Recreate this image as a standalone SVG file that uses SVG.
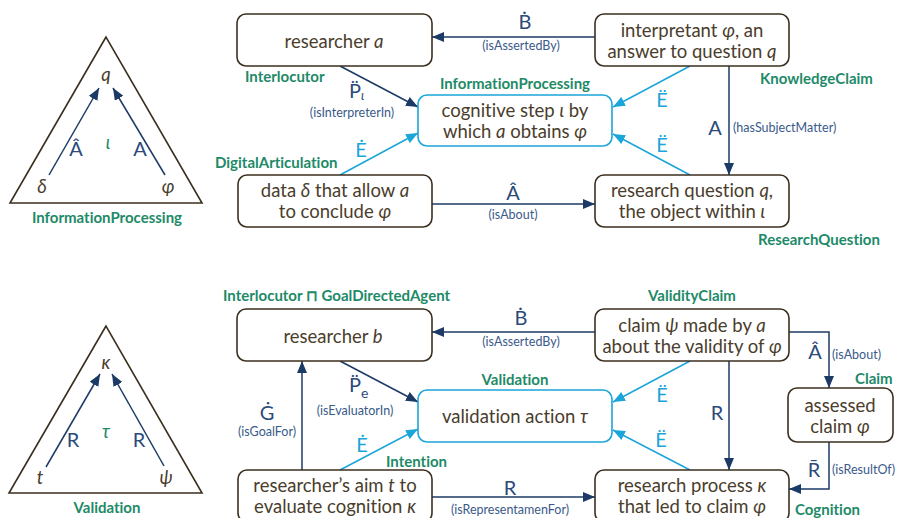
<svg xmlns="http://www.w3.org/2000/svg" width="900" height="518" viewBox="0 0 900 518">
<defs>
<marker id="an" viewBox="0 0 12 10" refX="12" refY="5" markerWidth="12" markerHeight="10" markerUnits="userSpaceOnUse" orient="auto"><path d="M0,0 L12,5 L0,10 Z" fill="#1c3a66"/></marker>
<marker id="ac" viewBox="0 0 12 10" refX="12" refY="5" markerWidth="12" markerHeight="10" markerUnits="userSpaceOnUse" orient="auto"><path d="M0,0 L12,5 L0,10 Z" fill="#1ba5d8"/></marker>
</defs>
<style>
text{font-family:Lato,"Liberation Sans",sans-serif;font-variant-ligatures:none;font-feature-settings:"liga" 0,"dlig" 0}
.box{fill:#fff;stroke:#3b2f1e;stroke-width:1.6}
.bbox{fill:#fff;stroke:#1ba5d8;stroke-width:1.6}
.nt{font-size:18.5px;fill:#4a3d2c;text-anchor:middle}
.i{font-style:italic}
.cls{font-size:15px;font-weight:bold;fill:#1e8a68}
.mid{text-anchor:middle}
.el{font-size:20px;fill:#2b4a7a;text-anchor:middle}
.ec{font-size:20px;fill:#1ba5d8;text-anchor:middle}
.pl{font-size:12.5px;fill:#3a5a8a;text-anchor:middle}
.pls{font-size:12.5px;fill:#3a5a8a;text-anchor:start}
.sub{fill:#2b4a7a;text-anchor:start}
.n{stroke:#1c3a66;stroke-width:1.5;fill:none}
.c{stroke:#1ba5d8;stroke-width:1.5;fill:none}
.tri{fill:none;stroke:#3b2f1e;stroke-width:1.6}
</style>

<g id="triangle-info">
<polygon class="tri" points="106,37 10,203 202,203"/>
<line class="n" x1="49" y1="175" x2="99" y2="88" marker-end="url(#an)"/>
<line class="n" x1="165" y1="175" x2="113" y2="88" marker-end="url(#an)"/>
<text class="nt i" x="106" y="81">q</text>
<text class="nt i" x="108" y="149" style="fill:#1e8a68">ι</text>
<text class="el" x="76" y="156">Â</text>
<text class="el" x="140" y="156">A</text>
<text class="nt i" x="42" y="193">δ</text>
<text class="nt i" x="168" y="193">φ</text>
<text class="cls mid" x="107" y="223">InformationProcessing</text>
</g>

<g id="triangle-val">
<polygon class="tri" points="106,326 9,493 202,493"/>
<line class="n" x1="46" y1="467" x2="100" y2="374" marker-end="url(#an)"/>
<line class="n" x1="164" y1="466" x2="112" y2="374" marker-end="url(#an)"/>
<text class="nt i" x="106" y="369">κ</text>
<text class="nt i" x="106" y="438" style="fill:#1e8a68">τ</text>
<text class="el" x="73" y="447">R</text>
<text class="el" x="139" y="447">R</text>
<text class="nt i" x="40" y="484">t</text>
<text class="nt i" x="166" y="484">ψ</text>
<text class="cls mid" x="107" y="513">Validation</text>
</g>

<g id="connectors">
<line class="n" x1="595" y1="37" x2="432" y2="37" marker-end="url(#an)"/>
<line class="n" x1="340" y1="66" x2="418" y2="107" marker-end="url(#an)"/>
<line class="c" x1="690" y1="66" x2="613" y2="107" marker-end="url(#ac)"/>
<line class="n" x1="729" y1="66" x2="729" y2="175" marker-end="url(#an)"/>
<line class="c" x1="690" y1="175" x2="613" y2="134" marker-end="url(#ac)"/>
<line class="c" x1="340" y1="175" x2="418" y2="133" marker-end="url(#ac)"/>
<line class="n" x1="432" y1="204" x2="595" y2="204" marker-end="url(#an)"/>

<line class="n" x1="595" y1="332" x2="432" y2="332" marker-end="url(#an)"/>
<line class="n" x1="340" y1="361" x2="418" y2="402" marker-end="url(#an)"/>
<line class="n" x1="302" y1="470" x2="302" y2="361" marker-end="url(#an)"/>
<line class="c" x1="340" y1="470" x2="418" y2="429" marker-end="url(#ac)"/>
<line class="n" x1="432" y1="497" x2="595" y2="497" marker-end="url(#an)"/>
<line class="c" x1="690" y1="361" x2="613" y2="402" marker-end="url(#ac)"/>
<line class="n" x1="729" y1="361" x2="729" y2="470" marker-end="url(#an)"/>
<line class="c" x1="690" y1="470" x2="613" y2="430" marker-end="url(#ac)"/>
<polyline class="n" points="789,332 829,332 829,388" marker-end="url(#an)"/>
<polyline class="n" points="829,442 829,489 789,489" marker-end="url(#an)"/>

<text class="el" x="525" y="29">Ḃ</text>
<text class="pl" x="521" y="50">(isAssertedBy)</text>
<text class="el" x="355" y="98">P̈</text>
<text class="sub i" x="361" y="100" style="font-size:13px">ι</text>
<text class="pl" x="352" y="117">(isInterpreterIn)</text>
<text class="ec" x="662" y="107">Ë</text>
<text class="el" x="715" y="135">A</text>
<text class="pls" x="733" y="132">(hasSubjectMatter)</text>
<text class="ec" x="662" y="152">Ë</text>
<text class="ec" x="361" y="157">Ė</text>
<text class="el" x="513" y="200">Â</text>
<text class="pl" x="513" y="219">(isAbout)</text>

<text class="el" x="521" y="325">Ḃ</text>
<text class="pl" x="521" y="346">(isAssertedBy)</text>
<text class="el" x="355" y="392">P̈</text>
<text class="sub" x="361" y="398" style="font-size:14px">e</text>
<text class="pl" x="355" y="415">(isEvaluatorIn)</text>
<text class="el" x="267" y="420">Ġ</text>
<text class="pl" x="267" y="436">(isGoalFor)</text>
<text class="ec" x="362" y="452">Ė</text>
<text class="el" x="510" y="495">R</text>
<text class="pl" x="510" y="514">(isRepresentamenFor)</text>
<text class="ec" x="662" y="402">Ë</text>
<text class="el" x="717" y="420">R</text>
<text class="ec" x="661" y="447">Ë</text>
<text class="el" x="815" y="359">Â</text>
<text class="pls" x="832" y="359">(isAbout)</text>
<text class="el" x="814" y="477">R̄</text>
<text class="pls" x="832" y="474">(isResultOf)</text>
</g>

<g id="researcher-a">
<rect class="box" x="237" y="14" width="195" height="52" rx="9"/>
<text class="nt" x="334" y="48">researcher <tspan class="i">a</tspan></text>
<text class="cls" x="245" y="82">Interlocutor</text>
</g>
<g id="interpretant">
<rect class="box" x="595" y="14" width="194" height="52" rx="9"/>
<text class="nt" x="692" y="37">interpretant <tspan class="i">φ</tspan>, an</text>
<text class="nt" x="692" y="58">answer to question <tspan class="i">q</tspan></text>
<text class="cls" x="760" y="84">KnowledgeClaim</text>
</g>
<g id="cognitive-step">
<rect class="bbox" x="418" y="95" width="194" height="51" rx="9"/>
<text class="nt" x="515" y="117">cognitive step <tspan class="i">ι</tspan> by</text>
<text class="nt" x="515" y="138">which <tspan class="i">a</tspan> obtains <tspan class="i">φ</tspan></text>
<text class="cls mid" x="515" y="89">InformationProcessing</text>
</g>
<g id="data">
<rect class="box" x="238" y="175" width="194" height="52" rx="9"/>
<text class="nt" x="335" y="197">data <tspan class="i">δ</tspan> that allow <tspan class="i">a</tspan></text>
<text class="nt" x="335" y="218">to conclude <tspan class="i">φ</tspan></text>
<text class="cls" x="215" y="168">DigitalArticulation</text>
</g>
<g id="research-question">
<rect class="box" x="595" y="175" width="194" height="52" rx="9"/>
<text class="nt" x="692" y="197">research question <tspan class="i">q</tspan>,</text>
<text class="nt" x="692" y="218">the object within <tspan class="i">ι</tspan></text>
<text class="cls" x="758" y="245">ResearchQuestion</text>
</g>

<g id="researcher-b">
<rect class="box" x="237" y="309" width="195" height="52" rx="9"/>
<text class="nt" x="333" y="343">researcher <tspan class="i">b</tspan></text>
<text class="cls" x="223" y="301">Interlocutor ⊓ GoalDirectedAgent</text>
</g>
<g id="claim-psi">
<rect class="box" x="595" y="309" width="194" height="52" rx="9"/>
<text class="nt" x="692" y="332">claim <tspan class="i">ψ</tspan> made by <tspan class="i">a</tspan></text>
<text class="nt" x="692" y="353">about the validity of <tspan class="i">φ</tspan></text>
<text class="cls mid" x="692" y="301">ValidityClaim</text>
</g>
<g id="validation-action">
<rect class="bbox" x="418" y="390" width="194" height="52" rx="9"/>
<text class="nt" x="515" y="423">validation action <tspan class="i">τ</tspan></text>
<text class="cls mid" x="515" y="385">Validation</text>
</g>
<g id="assessed-claim">
<rect class="box" x="788" y="388" width="105" height="54" rx="9"/>
<text class="nt" x="840" y="412">assessed</text>
<text class="nt" x="840" y="433">claim <tspan class="i">φ</tspan></text>
<text class="cls" x="855" y="384">Claim</text>
</g>
<g id="researchers-aim">
<rect class="box" x="238" y="470" width="194" height="52" rx="9"/>
<text class="nt" x="335" y="492">researcher’s aim <tspan class="i">t</tspan> to</text>
<text class="nt" x="335" y="513">evaluate cognition <tspan class="i">κ</tspan></text>
<text class="cls" x="386" y="467">Intention</text>
</g>
<g id="research-process">
<rect class="box" x="595" y="470" width="194" height="52" rx="9"/>
<text class="nt" x="692" y="492">research process <tspan class="i">κ</tspan></text>
<text class="nt" x="692" y="513">that led to claim <tspan class="i">φ</tspan></text>
<text class="cls" x="795" y="515">Cognition</text>
</g>
</svg>
